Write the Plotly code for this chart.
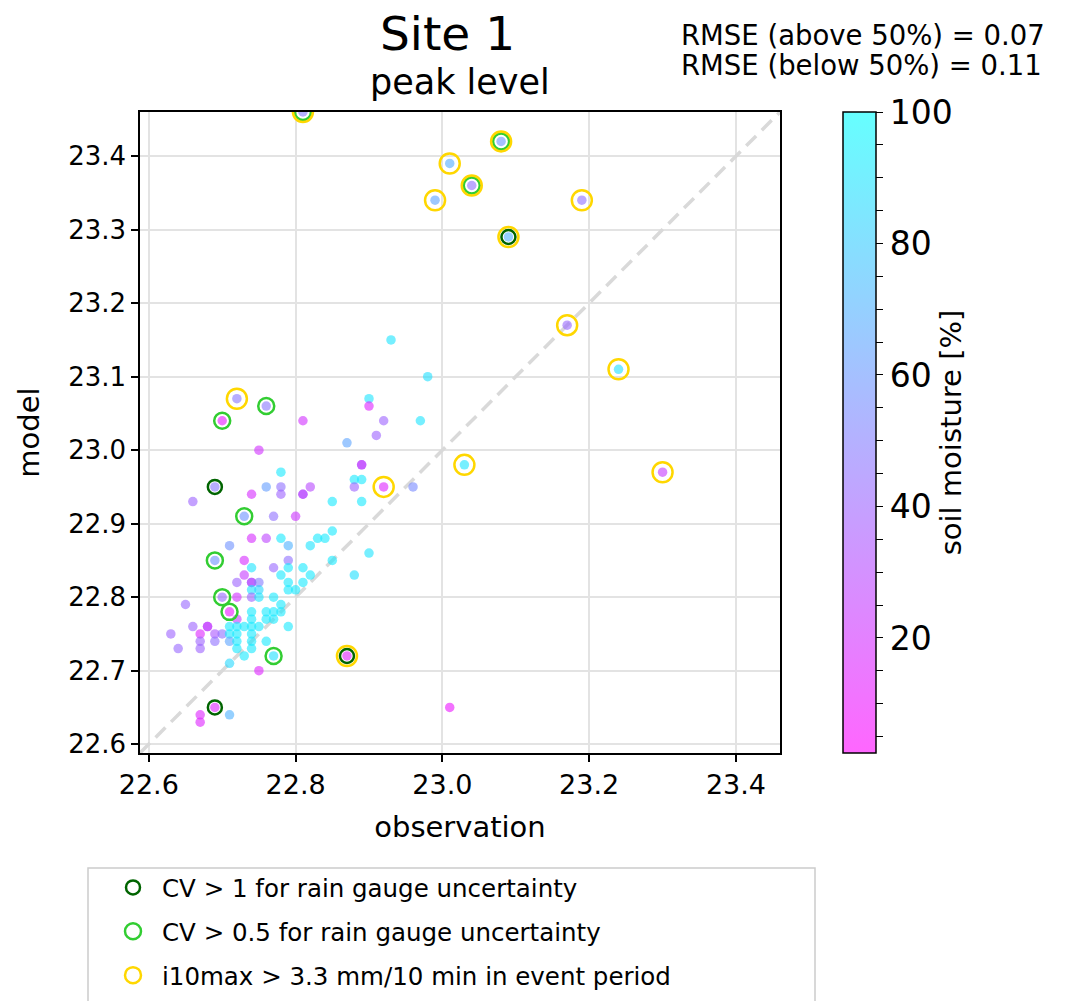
import plotly.graph_objects as go

# ---- data: observation, model, soil moisture [%] ----
obs = [22.93, 22.98, 22.90, 22.90, 22.81, 22.92, 22.97, 22.91, 22.87, 22.75,
       22.89, 22.89, 22.78, 22.88, 22.89, 22.76, 22.78, 22.82, 22.88, 22.96,
       22.78, 22.74, 22.81, 22.81, 22.66, 22.85, 22.89, 22.77, 22.80, 22.85,
       22.74, 22.76, 22.78, 22.83, 22.84, 22.71, 22.79, 22.82, 22.73, 22.79,
       22.85, 22.90, 22.74, 22.77, 22.79, 22.81, 22.73, 22.78, 22.82, 22.88,
       22.72, 22.74, 22.74, 22.75, 22.79, 22.81, 22.74, 22.75, 22.79, 22.80,
       22.72, 22.74, 22.75, 22.77, 22.65, 22.78, 22.74, 22.76, 22.77, 22.78,
       22.72, 22.74, 22.76, 22.77, 22.66, 22.68, 22.68, 22.71, 22.72, 22.73,
       22.74, 22.75, 22.79, 22.63, 22.67, 22.69, 22.70, 22.71, 22.72, 22.74,
       22.67, 22.69, 22.71, 22.72, 22.74, 22.76, 22.64, 22.67, 22.72, 22.74,
       22.73, 22.71, 22.75, 22.71, 22.67, 22.67, 23.01,
       22.81, 23.08, 23.01, 23.04, 22.99, 23.19, 23.09, 23.17, 23.24, 22.72,
       23.03, 23.30, 22.92, 22.87, 22.70, 22.76, 22.73, 22.69, 22.70, 22.71,
       22.77, 22.69, 22.69]
mod = [23.15, 23.10, 23.07, 23.06, 23.04, 23.04, 23.04, 23.02, 23.01, 23.00,
       22.98, 22.98, 22.97, 22.96, 22.96, 22.95, 22.95, 22.95, 22.95, 22.95,
       22.94, 22.94, 22.94, 22.94, 22.93, 22.93, 22.93, 22.91, 22.91, 22.89,
       22.88, 22.88, 22.88, 22.88, 22.88, 22.87, 22.87, 22.87, 22.85, 22.85,
       22.85, 22.86, 22.84, 22.84, 22.84, 22.84, 22.83, 22.83, 22.83, 22.83,
       22.82, 22.82, 22.82, 22.82, 22.82, 22.82, 22.81, 22.81, 22.81, 22.81,
       22.80, 22.80, 22.80, 22.80, 22.79, 22.79, 22.78, 22.78, 22.78, 22.78,
       22.77, 22.77, 22.77, 22.77, 22.76, 22.76, 22.76, 22.76, 22.76, 22.76,
       22.76, 22.76, 22.76, 22.75, 22.75, 22.75, 22.75, 22.75, 22.75, 22.75,
       22.74, 22.74, 22.74, 22.74, 22.74, 22.74, 22.73, 22.73, 22.73, 22.73,
       22.72, 22.71, 22.70, 22.64, 22.64, 22.63, 22.65,
       23.46, 23.42, 23.39, 23.36, 23.34, 23.34, 23.29, 23.17, 23.11, 23.07,
       22.98, 22.97, 22.95, 22.72, 23.04, 23.06, 22.91, 22.85, 22.80, 22.78,
       22.72, 22.95, 22.65]
soil = [90, 88, 90, 15, 20, 40, 90, 40, 65, 20,
        35, 25, 92, 92, 92, 62, 45, 30, 40, 55,
        40, 18, 35, 28, 40, 92, 92, 45, 22, 92,
        18, 28, 92, 92, 92, 58, 70, 90, 18, 45,
        92, 90, 90, 42, 92, 92, 25, 92, 92, 88,
        40, 35, 30, 50, 92, 92, 90, 85, 92, 92,
        20, 40, 90, 92, 42, 92, 92, 92, 92, 92,
        25, 92, 92, 92, 40, 15, 30, 92, 92, 92,
        92, 92, 92, 40, 15, 35, 45, 92, 92, 92,
        40, 45, 65, 92, 92, 92, 42, 40, 92, 92,
        92, 85, 15, 70, 15, 15, 10,
        50, 60, 68, 45, 65, 45, 70, 42, 88, 48,
        90, 25, 15, 15, 12, 48, 58, 58, 42, 10,
        88, 48, 15]

# events flagged by criteria
cv1_obs = [23.09, 22.87, 22.69, 22.69]
cv1_mod = [23.29, 22.72, 22.95, 22.65]
cv05_obs = [22.81, 23.08, 23.04, 22.70, 22.76, 22.73, 22.69, 22.70, 22.71, 22.77]
cv05_mod = [23.46, 23.42, 23.36, 23.04, 23.06, 22.91, 22.85, 22.80, 22.78, 22.72]
i10_obs = [22.81, 23.08, 23.01, 23.04, 22.99, 23.19, 23.09, 23.17, 23.24, 22.72,
           23.03, 23.30, 22.92, 22.87]
i10_mod = [23.46, 23.42, 23.39, 23.36, 23.34, 23.34, 23.29, 23.17, 23.11, 23.07,
           22.98, 22.97, 22.95, 22.72]

legend_names = ["CV > 1 for rain gauge uncertainty",
                "CV > 0.5 for rain gauge uncertainty",
                "i10max > 3.3 mm/10 min in event period"]
x_ticks = [22.6, 22.8, 23.0, 23.2, 23.4]
y_ticks = [22.6, 22.7, 22.8, 22.9, 23.0, 23.1, 23.2, 23.3, 23.4]
cb_ticks = [5, 10, 15, 20, 25, 30, 35, 40, 45, 50, 55, 60, 65, 70, 75, 80, 85, 90, 95, 100]
cb_labels = [str(v) if v % 20 == 0 else "" for v in cb_ticks]
title_text = "Site 1"
subtitle_text = "peak level"
rmse_lines = ["RMSE (above 50%) = 0.07", "RMSE (below 50%) = 0.11"]

lo, hi = 22.588, 23.46
FONT = "DejaVu Sans"


def px_x(p):
    return (p - 140) / 640


def px_y(p):
    return (753 - p) / 641


fig = go.Figure()
fig.add_trace(go.Scatter(x=[lo, hi], y=[lo, hi], mode="lines",
                         line=dict(color="#d9d9d9", width=3.5, dash="14px,8px"),
                         showlegend=False, hoverinfo="skip"))
fig.add_trace(go.Scatter(
    x=obs, y=mod, mode="markers", showlegend=False,
    marker=dict(size=9.5, color=soil, cmin=2.5, cmax=100,
                colorscale=[[0, "rgba(255,0,255,0.6)"], [1, "rgba(0,255,255,0.6)"]],
                colorbar=dict(x=px_x(833), xanchor="left", xref="paper",
                              y=0.5, yanchor="middle", len=641, lenmode="pixels", ypad=0,
                              thickness=33, thicknessmode="pixels",
                              outlinewidth=1.5, outlinecolor="black",
                              tickmode="array", tickvals=cb_ticks, ticktext=cb_labels,
                              ticks="outside", ticklen=7, tickwidth=1.2, tickcolor="black",
                              tickfont=dict(size=33, color="black", family=FONT),
                              title=dict(text="soil moisture [%]", side="right",
                                         font=dict(size=29, color="black", family=FONT))))))
ring_specs = [(cv1_obs, cv1_mod, legend_names[0], 14, "#006400"),
              (cv05_obs, cv05_mod, legend_names[1], 16, "#32cd32"),
              (i10_obs, i10_mod, legend_names[2], 20, "#ffd700")]
for i, (xs, ys, nm, sz, col) in enumerate(ring_specs):
    fig.add_trace(go.Scatter(x=xs, y=ys, mode="markers", name=nm, legendgroup=f"g{i}",
                             marker=dict(symbol="circle-open", size=sz, color=col,
                                         line=dict(width=2.5))))

axis_common = dict(range=[lo, hi], showgrid=True, gridcolor="#e3e3e3", gridwidth=1.5,
                   showline=True, linecolor="black", linewidth=1.5, mirror=True,
                   ticks="outside", ticklen=7, tickwidth=1.5, tickcolor="black",
                   zeroline=False, automargin=False)
fig.update_xaxes(**axis_common, tickvals=x_ticks, ticktext=[f"{v:.1f}" for v in x_ticks],
                 tickfont=dict(size=27, color="black", family=FONT),
                 title=dict(text="observation", font=dict(size=29, color="black", family=FONT),
                            standoff=18))
fig.update_yaxes(**axis_common, tickvals=y_ticks, ticktext=[f"{v:.1f}" for v in y_ticks],
                 tickfont=dict(size=26, color="black", family=FONT),
                 title=dict(text="model", font=dict(size=29, color="black", family=FONT),
                            standoff=20))

fig.add_annotation(text=title_text, xref="paper", yref="paper",
                   x=px_x(447), y=px_y(33), xanchor="center", yanchor="middle",
                   showarrow=False, font=dict(size=47, color="black", family=FONT))
fig.add_annotation(text=subtitle_text, xref="paper", yref="paper",
                   x=px_x(460), y=px_y(82), xanchor="center", yanchor="middle",
                   showarrow=False, font=dict(size=35, color="black", family=FONT))
for txt, yy in zip(rmse_lines, [35, 65]):
    fig.add_annotation(text=txt, xref="paper", yref="paper", align="left",
                       x=px_x(679), y=px_y(yy), xanchor="left", yanchor="middle",
                       showarrow=False, font=dict(size=27.5, color="black", family=FONT))

# legend frame (matplotlib-style box)
fig.add_shape(type="rect", xref="paper", yref="paper",
              x0=px_x(88), x1=px_x(815), y0=px_y(1030), y1=px_y(868),
              line=dict(color="#cccccc", width=1.5), fillcolor="white", layer="below")

fig.update_layout(
    width=1072, height=1001,
    margin=dict(l=140, r=292, t=112, b=248, autoexpand=False),
    plot_bgcolor="white", paper_bgcolor="white",
    font=dict(family=FONT, color="black"),
    legend=dict(x=px_x(104), y=px_y(865), xanchor="left", yanchor="top",
                borderwidth=0, bgcolor="rgba(0,0,0,0)", traceorder="grouped",
                tracegroupgap=9, itemwidth=48,
                font=dict(size=24.5, color="black", family=FONT)),
)
fig.write_html("out.html")
